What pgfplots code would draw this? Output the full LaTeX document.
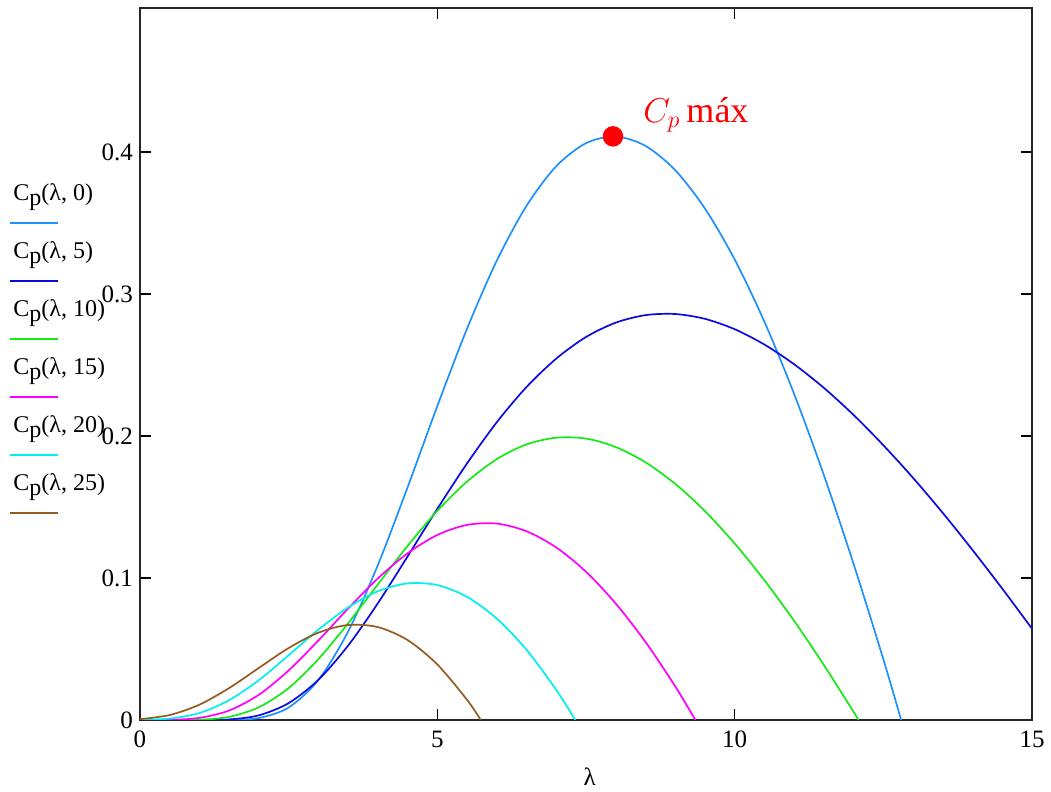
\documentclass[border=0pt]{standalone}
\usepackage{fontspec}
\setmainfont{Liberation Serif}
\usepackage{pgfplots}
\pgfplotsset{compat=1.18}

% trace colours
\definecolor{tr0}{RGB}{30,144,255}
\definecolor{tr5}{RGB}{10,10,225}
\definecolor{tr10}{RGB}{20,235,20}
\definecolor{tr15}{RGB}{255,0,255}
\definecolor{tr20}{RGB}{0,240,240}
\definecolor{tr25}{RGB}{150,90,35}

\newcommand{\cpl}[1]{C\raisebox{-2.5pt}{p}(λ, #1)}

\begin{document}
\begin{tikzpicture}
\path[use as bounding box] (-70pt,-36pt) rectangle (455.5pt,360pt);
\begin{axis}[
    scale only axis,
    width=446pt, height=356pt,
    xmin=0, xmax=15,
    ymin=0, ymax=0.5014,
    xtick={0,5,10,15},
    ytick={0,0.1,0.2,0.3,0.4},
    tick align=inside,
    major tick length=5.5pt,
    axis line style={line width=1pt, black!85},
    tick style={line width=0.8pt, black},
    /pgf/number format/assume math mode=true,
    ticklabel style={font=\fontsize{12.5}{13}\selectfont},
    xticklabel style={yshift=-2pt},
    xlabel={λ},
    xlabel style={font=\fontsize{12.5}{13}\selectfont, at={(axis description cs:0.504,0)}, anchor=center, yshift=-28.5pt},
    every axis plot/.append style={line width=0.85pt, smooth},
    clip mode=individual,
]

% Cp(lambda, 0)
\addplot[tr0] coordinates {
 (0,0) (1,0) (1.5,0.0001) (2,0.0014) (2.5,0.0088) (3,0.0282) (3.5,0.0623)
 (4,0.1091) (4.5,0.1639) (5,0.2211) (5.5,0.2756) (6,0.3235) (6.5,0.3621)
 (7,0.3900) (7.5,0.4062) (8,0.4109) (8.5,0.4043) (9,0.3872) (9.5,0.3602)
 (10,0.3243) (10.5,0.2805) (11,0.2296) (11.5,0.1725) (12,0.1099)
 (12.5,0.0428) (12.80,0)
};

% Cp(lambda, 5)
\addplot[tr5] coordinates {
 (0,0) (1,0) (1.5,0.0004) (2,0.0033) (2.5,0.0119) (3,0.0283) (3.5,0.0524)
 (4,0.0822) (4.5,0.1152) (5,0.1487) (5.5,0.1807) (6,0.2097) (6.5,0.2345)
 (7,0.2545) (7.5,0.2697) (8,0.2798) (8.5,0.2851) (9,0.2859) (9.5,0.2825)
 (10,0.2752) (10.5,0.2644) (11,0.2505) (11.5,0.2339) (12,0.2148)
 (12.5,0.1935) (13,0.1705) (13.5,0.1458) (14,0.1197) (14.5,0.0925) (15,0.0643)
};

% Cp(lambda, 10)
\addplot[tr10] coordinates {
 (0,0) (0.5,0) (1,0.0002) (1.5,0.0022) (2,0.0090) (2.5,0.0225) (3,0.0429)
 (3.5,0.0681) (4,0.0955) (4.5,0.1226) (5,0.1473) (5.5,0.1679) (6,0.1837)
 (6.5,0.1941) (7,0.1988) (7.5,0.1982) (8,0.1922) (8.5,0.1815) (9,0.1663)
 (9.5,0.1471) (10,0.1243) (10.5,0.0984) (11,0.0698) (11.5,0.0387)
 (12,0.0057) (12.08,0)
};

% Cp(lambda, 15)
\addplot[tr15] coordinates {
 (0,0) (0.5,0.0001) (1,0.0015) (1.5,0.0067) (2,0.0178) (2.5,0.0349)
 (3,0.0560) (3.5,0.0785) (4,0.0997) (4.5,0.1174) (5,0.1303) (5.5,0.1374)
 (6,0.1383) (6.5,0.1329) (7,0.1215) (7.5,0.1044) (8,0.0820) (8.5,0.0550)
 (9,0.0237) (9.34,0)
};

% Cp(lambda, 20)
\addplot[tr20] coordinates {
 (0,0.0001) (0.5,0.0010) (1,0.0049) (1.5,0.0140) (2,0.0281) (2.5,0.0456)
 (3,0.0636) (3.5,0.0793) (4,0.0907) (4.5,0.0962) (5,0.0950) (5.5,0.0867)
 (6,0.0714) (6.5,0.0494) (7,0.0212) (7.32,0)
};

% Cp(lambda, 25)
\addplot[tr25] coordinates {
 (0,0.0006) (0.5,0.0035) (1,0.0108) (1.5,0.0225) (2,0.0367) (2.5,0.0507)
 (3,0.0615) (3.5,0.0669) (4,0.0654) (4.5,0.0563) (5,0.0391) (5.5,0.0142)
 (5.73,0)
};

% maximum of Cp(lambda, 0)
\addplot[only marks, mark=*, mark size=4.7pt, red, mark options={fill=red, draw=red}]
  coordinates {(7.954,0.4110)};
\node[anchor=base west, text=red, font=\fontsize{18}{20}\selectfont, inner sep=0pt]
  at (axis cs:8.46,0.421) {$C_p$\,máx};

\end{axis}

% trace labels on the left, as Mathcad draws them
\foreach \lab/\col [count=\i from 0] in {0/tr0,5/tr5,10/tr10,15/tr15,20/tr20,25/tr25} {
  \node[anchor=base west, inner sep=0pt, font=\fontsize{12}{13}\selectfont]
    at (-63.5pt,{259.6pt-\i*29pt}) {\cpl{\lab}};
  \draw[\col, line width=0.9pt] (-65pt,{248.6pt-\i*29pt}) -- (-41pt,{248.6pt-\i*29pt});
}
\end{tikzpicture}
\end{document}
